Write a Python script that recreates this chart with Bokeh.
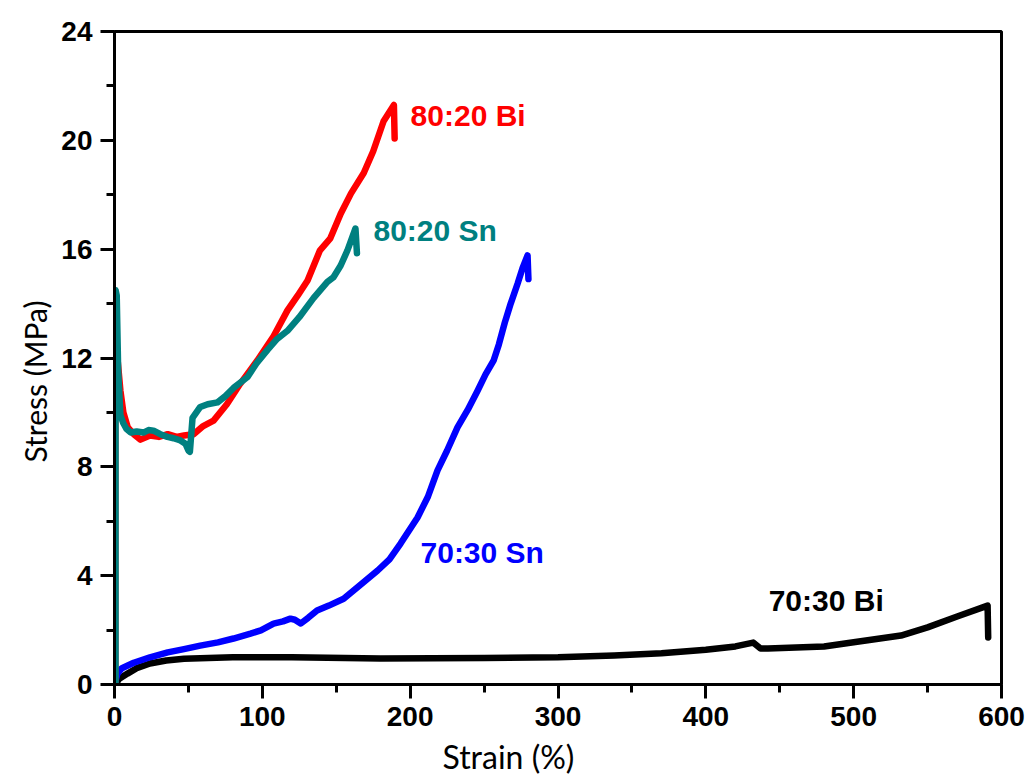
from bokeh.plotting import figure
from bokeh.models import Range1d, FixedTicker, ColumnDataSource, Title
from bokeh.core.properties import value
from bokeh.embed import file_html
from bokeh.resources import INLINE

# ---- data ----
bi8020_x = [0.5, 0.5, 2, 4, 6, 9, 13, 17.6, 24, 30, 36, 42, 47, 53.5, 60, 67, 76, 85, 96.5,
            107.6, 117, 124, 130.6, 139, 146, 153, 160, 168.6, 175, 182, 189, 189.5]
bi8020_y = [0, 12.8, 12.0, 10.8, 10.0, 9.45, 9.2, 9.0, 9.15, 9.1, 9.2, 9.1, 9.15, 9.2, 9.5, 9.7,
            10.3, 11.05, 11.9, 12.8, 13.75, 14.3, 14.85, 15.96, 16.4, 17.3, 18.05, 18.8, 19.6,
            20.7, 21.3, 20.07]

sn8020_x = [0.7, 0.7, 1.5, 2.5, 4, 6, 8, 11, 15, 19.6, 23, 26.4, 31, 35.8, 40, 44.6, 48, 50,
            51, 52.8, 58, 63, 69.7, 75, 80.5, 90, 96, 103.5, 110, 117, 125, 134.6, 144, 148,
            153, 157.6, 163, 164]
sn8020_y = [0, 14.5, 14.3, 11.5, 9.9, 9.6, 9.4, 9.26, 9.3, 9.26, 9.35, 9.33, 9.2, 9.1, 9.05,
            8.97, 8.85, 8.6, 8.55, 9.8, 10.2, 10.3, 10.37, 10.6, 10.9, 11.3, 11.8, 12.3, 12.7,
            13.0, 13.5, 14.2, 14.8, 14.96, 15.4, 15.96, 16.76, 15.85]

sn7030_x = [0.5, 2, 5, 13, 24, 36, 47, 58, 70, 80.5, 92, 99, 107.6, 114, 119, 122, 126, 131,
            137, 145, 155, 165, 178, 186, 193.5, 205, 212, 218.5, 225, 232, 239, 245.6, 251,
            256.4, 260, 264, 268, 272.7, 276, 279.4, 280]
sn7030_y = [0.1, 0.4, 0.6, 0.8, 1.0, 1.18, 1.3, 1.43, 1.55, 1.69, 1.87, 1.99, 2.24, 2.32, 2.42,
            2.38, 2.24, 2.45, 2.72, 2.9, 3.15, 3.6, 4.19, 4.6, 5.18, 6.14, 6.9, 7.87, 8.6, 9.45,
            10.1, 10.8, 11.4, 11.9, 12.5, 13.3, 14.0, 14.74, 15.3, 15.77, 14.9]

bi7030_x = [0.7, 3, 8.8, 15, 24, 35, 47, 80, 120, 180, 250, 300, 338, 370, 400, 420, 432, 437,
            442, 480, 500, 532, 550, 570, 590.6, 591]
bi7030_y = [0, 0.2, 0.4, 0.6, 0.77, 0.88, 0.95, 1.0, 1.0, 0.96, 0.97, 1.0, 1.07, 1.15, 1.28,
            1.4, 1.54, 1.32, 1.32, 1.4, 1.55, 1.8, 2.1, 2.5, 2.9, 1.73]

labels = ["80:20 Bi", "80:20 Sn", "70:30 Sn", "70:30 Bi"]
label_x = [200.3, 175.2, 207, 442.5]
label_y = [20.9, 16.7, 4.85, 3.09]
label_colors = ["#FF0000", "#008080", "#0000FF", "#000000"]

x_ticks = [0, 100, 200, 300, 400, 500, 600]
x_minor = [50, 150, 250, 350, 450, 550]
y_ticks = [0, 4, 8, 12, 16, 20, 24]
y_minor = [2, 6, 10, 14, 18, 22]

# ---- figure ----
p = figure(width=1027, height=783, output_backend="svg", toolbar_location=None,
           x_range=Range1d(0, 600), y_range=Range1d(0, 24),
           min_border_left=114, min_border_right=26, min_border_top=31, min_border_bottom=99)
p.background_fill_color = "white"
p.border_fill_color = "white"
p.outline_line_color = "black"
p.outline_line_width = 3
p.xgrid.visible = False
p.ygrid.visible = False

series = [
    (bi7030_x, bi7030_y, "#000000"),
    (sn7030_x, sn7030_y, "#0000FF"),
    (bi8020_x, bi8020_y, "#FF0000"),
    (sn8020_x, sn8020_y, "#008080"),
]
for xs, ys, c in series:
    p.line(xs, ys, line_color=c, line_width=6.5, line_join="round", line_cap="round")

src = ColumnDataSource(dict(x=label_x, y=label_y, t=labels, c=label_colors))
p.text(x="x", y="y", text="t", text_color="c", source=src,
       text_font=value("Liberation Sans"), text_font_style="bold",
       text_font_size="30px", text_align="left", text_baseline="middle")

for ax, ticks, minor in ((p.xaxis[0], x_ticks, x_minor), (p.yaxis[0], y_ticks, y_minor)):
    ax.ticker = FixedTicker(ticks=ticks, minor_ticks=minor)
    ax.axis_line_width = 3
    ax.axis_line_color = "black"
    ax.major_tick_line_width = 3
    ax.minor_tick_line_width = 3
    ax.major_tick_in = 0
    ax.major_tick_out = 14
    ax.minor_tick_in = 0
    ax.minor_tick_out = 8
    ax.major_label_text_font = "Liberation Sans"
    ax.major_label_text_font_style = "bold"
    ax.major_label_text_font_size = "28px"
    ax.major_label_text_color = "black"

p.xaxis.major_label_standoff = 8
p.yaxis.major_label_standoff = 8

xt = Title(text="Strain (%)", align="left", offset=328, text_font="Lato",
           text_font_style="normal", text_font_size="32px", text_color="black", standoff=12)
p.add_layout(xt, "below")
yt = Title(text="Stress (MPa)", align="left", offset=222, text_font="Lato",
           text_font_style="normal", text_font_size="30px", text_color="black", standoff=12)
p.add_layout(yt, "left")

open("out.html", "w").write(file_html(p, INLINE))
